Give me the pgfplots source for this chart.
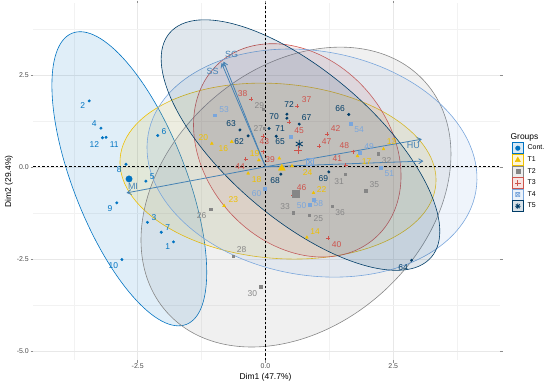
\documentclass[border=0pt]{standalone}
\usepackage{fontspec}
\setmainfont{Liberation Sans}
\usepackage{pgfplots}
\pgfplotsset{compat=1.18}
\usetikzlibrary{arrows.meta}
\definecolor{cCont}{HTML}{0073C2}
\definecolor{cT1}{HTML}{EFC000}
\definecolor{cT2}{HTML}{868686}
\definecolor{cT3}{HTML}{CD534C}
\definecolor{cT4}{HTML}{7AA6DC}
\definecolor{cT5}{HTML}{003C67}
\definecolor{arr}{HTML}{4682B4}
\definecolor{tickc}{HTML}{4D4D4D}
\newcommand{\lblfont}{\fontsize{8.5}{10}\selectfont}
\begin{document}
\begin{tikzpicture}[x=1bp,y=1bp]
\path[use as bounding box] (0,0) rectangle (550,385);
\begin{axis}[
  at={(33bp,25bp)}, anchor=south west, scale only axis,
  width=467bp, height=357bp,
  xmin=-4.55, xmax=4.59, ymin=-5.25, ymax=4.45,
  axis line style={draw=none},
  xtick={-2.5,0,2.5}, xticklabels={-2.5,0.0,2.5},
  ytick={-5,-2.5,0,2.5}, yticklabels={-5.0,-2.5,0.0,2.5},
  minor xtick={-3.75,-1.25,1.25,3.75},
  minor ytick={-3.75,-1.25,1.25,3.75},
  grid=both,
  major grid style={color=black!9, line width=0.5bp},
  minor grid style={color=black!5, line width=0.4bp},
  tick align=outside, major tick length=2.5bp, minor tick length=0pt,
  tick style={color=black!45, line width=0.5bp},
  xticklabel style={font=\fontsize{7}{8}\selectfont, text=tickc, inner sep=1bp},
  yticklabel style={font=\fontsize{7}{8}\selectfont, text=tickc, inner sep=1.5bp},
  legend cell align=left,
  legend style={at={(rel axis cs:1.0257,0.6423)}, anchor=north west, draw=none, fill=none,
    inner sep=0pt, outer sep=0pt, row sep=0pt, column sep=3bp,
    font=\fontsize{7}{8}\selectfont, nodes={inner sep=1bp}},
]
% legend
\addlegendimage{legend image code/.code={}}
\addlegendentry{\hspace*{-17bp}\fontsize{8.5}{10}\selectfont\rule[-3.8bp]{0pt}{12bp}Groups}
\addlegendimage{legend image code/.code={\draw[cCont, fill=cCont!15, line width=0.6bp] (0bp,-5.5bp) rectangle (11bp,5.5bp); \fill[cCont] (5.5bp,0bp) circle (2.3bp);}}
\addlegendentry{Cont.}
\addlegendimage{legend image code/.code={\draw[cT1, fill=cT1!15, line width=0.6bp] (0bp,-5.5bp) rectangle (11bp,5.5bp); \fill[cT1] (5.5bp,2.8bp) -- (2.9bp,-1.8bp) -- (8.1bp,-1.8bp) -- cycle;}}
\addlegendentry{T1}
\addlegendimage{legend image code/.code={\draw[cT2, fill=cT2!15, line width=0.6bp] (0bp,-5.5bp) rectangle (11bp,5.5bp); \fill[cT2] (3.4bp,-2.1bp) rectangle (7.6bp,2.1bp);}}
\addlegendentry{T2}
\addlegendimage{legend image code/.code={\draw[cT3, fill=cT3!15, line width=0.6bp] (0bp,-5.5bp) rectangle (11bp,5.5bp); \draw[cT3, line width=0.8bp] (5.5bp,-2.7bp) -- (5.5bp,2.7bp) (2.8bp,0bp) -- (8.2bp,0bp);}}
\addlegendentry{T3}
\addlegendimage{legend image code/.code={\draw[cT4, fill=cT4!15, line width=0.6bp] (0bp,-5.5bp) rectangle (11bp,5.5bp); \draw[cT4, line width=0.6bp] (3.4bp,-2.1bp) rectangle (7.6bp,2.1bp) (3.4bp,-2.1bp) -- (7.6bp,2.1bp) (3.4bp,2.1bp) -- (7.6bp,-2.1bp);}}
\addlegendentry{T4}
\addlegendimage{legend image code/.code={\draw[cT5, fill=cT5!15, line width=0.6bp] (0bp,-5.5bp) rectangle (11bp,5.5bp); \draw[cT5, line width=0.7bp] (5.5bp,-2.8bp) -- (5.5bp,2.8bp) (2.7bp,0bp) -- (8.3bp,0bp) (3.5bp,-2bp) -- (7.5bp,2bp) (3.5bp,2bp) -- (7.5bp,-2bp);}}
\addlegendentry{T5}

% ellipses
\draw[cCont, fill=cCont, fill opacity=0.12, line width=0.6bp, rotate around={-68.6:(axis cs:-2.665,-0.326)}] (axis cs:-2.665,-0.326) ellipse [x radius=156.4bp, y radius=56.2bp];
\draw[cT1, fill=cT1, fill opacity=0.12, line width=0.6bp, rotate around={-4.7:(axis cs:0.245,-0.117)}] (axis cs:0.245,-0.117) ellipse [x radius=158.4bp, y radius=87.3bp];
\draw[cT2, fill=cT2, fill opacity=0.12, line width=0.6bp, rotate around={41.7:(axis cs:0.597,-0.823)}] (axis cs:0.597,-0.823) ellipse [x radius=173bp, y radius=128.7bp];
\draw[cT3, fill=cT3, fill opacity=0.12, line width=0.6bp, rotate around={-48.3:(axis cs:0.622,0.446)}] (axis cs:0.622,0.446) ellipse [x radius=117.2bp, y radius=91.7bp];
\draw[cT4, fill=cT4, fill opacity=0.12, line width=0.6bp, rotate around={-9.8:(axis cs:0.910,0.101)}] (axis cs:0.910,0.101) ellipse [x radius=166.3bp, y radius=112.1bp];
\draw[cT5, fill=cT5, fill opacity=0.12, line width=0.6bp, rotate around={-40.6:(axis cs:0.685,0.590)}] (axis cs:0.685,0.590) ellipse [x radius=172.3bp, y radius=73.5bp];

% reference lines
\addplot[forget plot, black, line width=0.6bp, dash pattern=on 2.5bp off 2bp] coordinates {(0,-5.25) (0,4.45)};
\addplot[forget plot, black, line width=0.6bp, dash pattern=on 2.5bp off 2bp] coordinates {(-4.55,0) (4.59,0)};

% individuals
\addplot[forget plot, only marks, mark=*, mark size=1.3bp, cCont] coordinates {(-1.80,-2.04) (-3.45,1.79) (-2.31,-1.51) (-3.22,1.05) (-2.34,-0.39) (-2.11,0.85) (-2.04,-1.78) (-2.73,0.07) (-2.91,-0.98) (-2.81,-2.52) (-3.12,0.80) (-3.19,0.79)};
\addplot[forget plot, only marks, mark=triangle*, mark size=1.7bp, cT1] coordinates {(2.31,0.48) (0.81,-1.92) (-0.66,0.68) (1.80,0.29) (-0.34,-0.18) (-0.13,0.18) (-1.05,0.63) (0.27,0.23) (0.94,-0.71) (-0.81,-1.06) (0.52,0.02)};
\addplot[forget plot, only marks, mark=square*, mark size=1.2bp, cT2] coordinates {(0.86,-1.31) (-1.07,-1.15) (-0.03,1.05) (-0.63,-2.43) (-0.04,1.56) (-0.09,-3.26) (1.56,-0.20) (2.20,0.36) (0.54,-1.25) (1.96,-0.65) (1.30,-1.07)};
\addplot[forget plot, only marks, mark=+, mark size=2bp, line width=0.5bp, cT3] coordinates {(0.62,1.65) (-0.28,1.84) (-0.05,0.41) (1.22,-1.93) (1.57,0.05) (1.20,0.88) (-0.05,0.83) (-0.39,0.20) (0.46,1.21) (0.54,-0.77) (1.05,0.57) (1.72,0.41)};
\addplot[forget plot, only marks, mark=square*, mark size=1.4bp, cT4] coordinates {(1.85,0.38) (0.87,-1.04) (2.26,-0.03) (-0.99,1.40) (1.67,1.18) (0.49,0.82) (0.95,-0.90) (-0.02,-0.59)};
\addplot[forget plot, only marks, mark=*, mark size=1.3bp, cT5] coordinates {(-0.34,0.84) (-0.50,1.00) (2.86,-2.54) (0.21,0.83) (1.63,1.42) (0.66,1.16) (0.30,-0.20) (1.24,-0.14) (0.42,1.32) (0.07,1.04) (0.42,1.43)};

% group means
\addplot[forget plot, only marks, mark=*, mark size=3.2bp, cCont] coordinates {(-2.67,-0.33)};
\addplot[forget plot, only marks, mark=triangle*, mark size=4bp, cT1] coordinates {(0.32,-0.04)};
\addplot[forget plot, only marks, mark=square*, mark size=3.5bp, cT2] coordinates {(0.60,-0.74)};
\addplot[forget plot, only marks, mark=+, mark size=4bp, line width=1bp, cT3] coordinates {(0.64,0.45)};
\addplot[forget plot, only marks, mark=square, mark size=3.2bp, line width=0.8bp, cT4] coordinates {(0.87,0.13)};
\addplot[forget plot, only marks, mark=x, mark size=3.2bp, line width=0.8bp, cT4] coordinates {(0.87,0.13)};
\addplot[forget plot, only marks, mark=asterisk, mark size=4bp, line width=0.9bp, cT5] coordinates {(0.66,0.62)};

% variables
\addplot[forget plot, arr, line width=0.8bp, -{Straight Barb[length=4bp,width=5bp]}] coordinates {(0,0) (-0.86,2.82)};
\addplot[forget plot, arr, line width=0.8bp, -{Straight Barb[length=4bp,width=5bp]}] coordinates {(0,0) (-0.82,2.86)};
\addplot[forget plot, arr, line width=0.8bp, -{Straight Barb[length=4bp,width=5bp]}] coordinates {(0,0) (3.06,0.75)};
\addplot[forget plot, arr, line width=0.8bp, -{Straight Barb[length=4bp,width=5bp]}] coordinates {(0,0) (3.09,0.155)};
\addplot[forget plot, arr, line width=0.8bp, -{Straight Barb[length=4bp,width=5bp]}] coordinates {(0,0) (-2.72,-0.71)};
\end{axis}

% point and variable labels (pixel coordinates, y downward)
\begin{scope}[shift={(0,385)}, yscale=-1, every node/.style={font=\lblfont, inner sep=0pt}]
\node[text=cCont] at (167.7,246.7) {1};
\node[text=cCont] at (82.7,106) {2};
\node[text=cCont] at (154,217.7) {3};
\node[text=cCont] at (94.3,124) {4};
\node[text=cCont] at (152.3,176.7) {5};
\node[text=cCont] at (164,131.7) {6};
\node[text=cCont] at (167.7,227.7) {7};
\node[text=cCont] at (119.3,169.3) {8};
\node[text=cCont] at (110,208.3) {9};
\node[text=cCont] at (113.3,266) {10};
\node[text=cCont] at (114.3,144.3) {11};
\node[text=cCont] at (94.3,145) {12};
\node[text=cT1] at (391.7,141.7) {13};
\node[text=cT1] at (315,231.7) {14};
\node[text=cT1] at (223.3,149) {16};
\node[text=cT1] at (366.7,162) {17};
\node[text=cT1] at (256.7,180) {18};
\node[text=cT1] at (254.5,154) {19};
\node[text=cT1] at (203.3,137.7) {20};
\node[text=cT1] at (321.7,190) {22};
\node[text=cT1] at (233.3,200) {23};
\node[text=cT1] at (307.7,172.7) {24};
\node[text=cT2] at (318.3,219) {25};
\node[text=cT2] at (201.7,215.7) {26};
\node[text=cT2] at (258.3,128.3) {27};
\node[text=cT2] at (241.7,250) {28};
\node[text=cT2] at (259.3,105.7) {29};
\node[text=cT2] at (252.3,293.3) {30};
\node[text=cT2] at (339,181.7) {31};
\node[text=cT2] at (386.7,161) {32};
\node[text=cT2] at (285,206.7) {33};
\node[text=cT2] at (374.3,184.3) {35};
\node[text=cT2] at (340,212.3) {36};
\node[text=cT3] at (306.7,100) {37};
\node[text=cT3] at (242.7,93.3) {38};
\node[text=cT3] at (270,159.3) {39};
\node[text=cT3] at (336.7,244.3) {40};
\node[text=cT3] at (337.3,159) {41};
\node[text=cT3] at (335.7,128.3) {42};
\node[text=cT3] at (264.3,141.7) {43};
\node[text=cT3] at (240,166.7) {44};
\node[text=cT3] at (299,131) {45};
\node[text=cT3] at (301.7,187.3) {46};
\node[text=cT3] at (326.7,141.7) {47};
\node[text=cT3] at (344.3,146) {48};
\node[text=cT4] at (369,146.7) {49};
\node[text=cT4] at (301.7,206) {50};
\node[text=cT4] at (389.3,174) {51};
\node[text=cT4] at (224,109.3) {53};
\node[text=cT4] at (359,130) {54};
\node[text=cT4] at (318.3,203.3) {58};
\node[text=cT4] at (256.7,193.3) {60};
\node[text=cT5] at (239,142) {62};
\node[text=cT5] at (231,124) {63};
\node[text=cT5] at (403,267.3) {64};
\node[text=cT5] at (280,141.7) {65};
\node[text=cT5] at (340,108.3) {66};
\node[text=cT5] at (306.7,117.3) {67};
\node[text=cT5] at (275,180.7) {68};
\node[text=cT5] at (323.3,178.3) {69};
\node[text=cT5] at (274,116.7) {70};
\node[text=cT5] at (280,128.3) {71};
\node[text=cT5] at (289,105) {72};
\node[text=arr, font=\fontsize{9}{10}\selectfont] at (231.7,54) {SG};
\node[text=arr, font=\fontsize{9}{10}\selectfont] at (212.7,71) {SS};
\node[text=arr, font=\fontsize{9}{10}\selectfont] at (413.3,145.7) {HU};
\node[text=arr, font=\fontsize{9}{10}\selectfont] at (133,186.7) {MI};
\end{scope}

% axis titles
\node[font=\fontsize{8.5}{10}\selectfont] at (265.5,8) {Dim1 (47.7\%)};
\node[font=\fontsize{8.5}{10}\selectfont, rotate=90] at (9,203.5) {Dim2 (29.4\%)};
\end{tikzpicture}
\end{document}
